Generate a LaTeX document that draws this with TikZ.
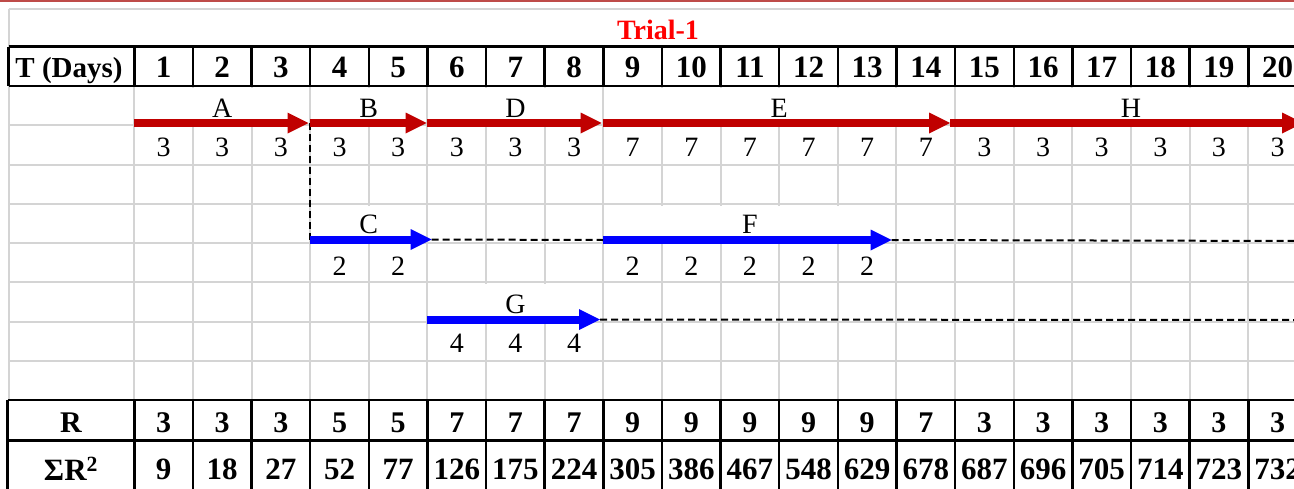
\documentclass[tikz,border=0pt]{standalone}
\usepackage{fontspec}
\setmainfont{Liberation Serif}
\usetikzlibrary{arrows.meta}
\definecolor{gridgray}{RGB}{212,212,212}
\definecolor{barred}{RGB}{192,0,0}
\definecolor{barblue}{RGB}{0,0,255}
\definecolor{titlered}{RGB}{255,0,0}
\definecolor{rulered}{RGB}{190,75,72}
% column boundaries: x_k = 134.3 + 58.63 k ; row lines: y_k = 86 + 39.25 k
\newcommand\colx[1]{134.3+58.63*(#1)}
\begin{document}
\begin{tikzpicture}[x=1pt,y=-1pt,
  gridline/.style={draw=gridgray,line width=2pt},
  rule/.style={draw=black,line width=2.5pt},
  hdtext/.style={font=\fontsize{31}{32}\selectfont\bfseries,text depth=0pt,inner sep=0pt},
  rtext/.style={font=\fontsize{30}{31}\selectfont\bfseries,text depth=0pt,inner sep=0pt},
  sqtext/.style={font=\fontsize{31}{32}\selectfont\bfseries,text depth=0pt,inner sep=0pt},
  numtext/.style={font=\fontsize{28}{29}\selectfont,text depth=0pt,inner sep=0pt},
  tag/.style={font=\fontsize{28}{29}\selectfont,fill=white,inner sep=0pt,
              text height=26.5pt,text depth=0pt},
  redbar/.style={draw=barred,line width=8pt,
                 -{Triangle[length=21pt,width=21pt,line width=0pt]}},
  bluebar/.style={draw=barblue,line width=8pt,
                  -{Triangle[length=21pt,width=21pt,line width=0pt]}},
  slack/.style={draw=black,line width=2pt,dash pattern=on 7pt off 4pt},
]
\useasboundingbox (0,0) rectangle (1294,488);
\clip (0,0) rectangle (1294,488);
\fill[white] (0,0) rectangle (1294,488);

% thin rule along the top edge
\draw[rulered,line width=2pt] (0,1.2) -- (1294,1.2);

% light sheet grid
\draw[gridline] (8.5,9) -- (1300,9);
\draw[gridline] (8.5,9) -- (8.5,400);
\foreach \k in {1,...,7}
  \draw[gridline] (8.5,{86+39.25*\k}) -- (1300,{86+39.25*\k});
\foreach \k in {0,...,19}
  \draw[gridline] ({\colx{\k}},86) -- ({\colx{\k}},400);

% activity labels (white boxes hide the inner grid lines)
\node[tag,minimum width=172.5pt,minimum height=33pt] (tA) at ({\colx{1.5}},104.5) {A};
\node[tag,minimum width=114pt,minimum height=33pt] (tB) at ({\colx{4}},104.5) {B};
\node[tag,minimum width=172.5pt,minimum height=33pt] (tD) at ({\colx{6.5}},104.5) {D};
\node[tag,minimum width=348.5pt,minimum height=33pt] (tE) at ({\colx{11}},104.5) {E};
\node[tag,minimum width=348.5pt,minimum height=33pt] (tH) at ({\colx{17}},104.5) {H};
\node[tag,minimum width=114pt,minimum height=30pt] (tC) at ({\colx{4}},220.5) {C};
\node[tag,minimum width=290pt,minimum height=30pt] (tF) at ({\colx{10.5}},220.5) {F};
\node[tag,minimum width=172.5pt,minimum height=31.5pt] (tG) at ({\colx{6.5}},299.75) {G};

% bar end points
\coordinate (a0) at ({\colx{0}},123);
\coordinate (a1) at (308.5,123);
\coordinate (b0) at ({\colx{3}},123);
\coordinate (b1) at (426.7,123);
\coordinate (d0) at ({\colx{5}},123);
\coordinate (d1) at (601.7,123);
\coordinate (e0) at ({\colx{8}},123);
\coordinate (e1) at (950,123);
\coordinate (h0) at (950,123);
\coordinate (h1) at (1303,123);
\coordinate (c0) at ({\colx{3}},239.5);
\coordinate (c1) at (431.7,239.5);
\coordinate (f0) at ({\colx{8}},240);
\coordinate (f1) at (891.7,240);
\coordinate (g0) at ({\colx{5}},319.5);
\coordinate (g1) at (600,319.5);
\coordinate (fEnd) at (1300,241);
\coordinate (gEnd) at (1300,320);

% float (dashed) links
\draw[slack] (b0) -- (c0);
\draw[slack] (c1) -- (f0);
\draw[slack] (f1) -- (fEnd);
\draw[slack] (g1) -- (gEnd);

% activity bars
\draw[redbar] (a0) -- (a1);
\draw[redbar] (b0) -- (b1);
\draw[redbar] (d0) -- (d1);
\draw[redbar] (e0) -- (e1);
\draw[redbar] (h0) -- (h1);
\draw[bluebar] (c0) -- (c1);
\draw[bluebar] (f0) -- (f1);
\draw[bluebar] (g0) -- (g1);

% daily resource values under each bar
\foreach \v [count=\i] in {3,3,3,3,3,3,3,3,7,7,7,7,7,7,3,3,3,3,3,3}
  \node[numtext] (m\i) at ({\colx{\i-0.5}},147) {\v};
\foreach \v [count=\i from 4] in {2,2}
  \node[numtext] (c\i) at ({\colx{\i-0.5}},266) {\v};
\foreach \v [count=\i from 9] in {2,2,2,2,2}
  \node[numtext] (f\i) at ({\colx{\i-0.5}},266) {\v};
\foreach \v [count=\i from 6] in {4,4,4}
  \node[numtext] (g\i) at ({\colx{\i-0.5}},343) {\v};

% title and header row
\node[font=\fontsize{28}{29}\selectfont\bfseries,text=titlered,inner sep=0pt,text depth=0pt]
  (title) at (658,30) {Trial-1};
\draw[rule] (8.5,46.7) -- (1300,46.7);
\draw[rule] (8.5,86) -- (1300,86);
\draw[rule] (8.5,46.7) -- (8.5,86);
\foreach \k in {0,...,19}
  \draw[rule] ({\colx{\k}},46.7) -- ({\colx{\k}},86);
\node[font=\fontsize{29}{30}\selectfont\bfseries,inner sep=0pt,text depth=0pt]
  (tdays) at (69,67) {T (Days)};
\foreach \i in {1,...,20}
  \node[hdtext] (d\i) at ({\colx{\i-0.5}},67) {\i};

% resource summary rows
\draw[rule] (7.5,400) -- (1300,400);
\draw[rule] (7.5,440.7) -- (1300,440.7);
\draw[rule] (7.5,400) -- (7.5,500);
\foreach \k in {0,...,19}
  \draw[rule] ({\colx{\k}},400) -- ({\colx{\k}},500);
\node[rtext] (rlab) at (71,423) {R};
\node[sqtext] (slab) at (71,469) {ΣR\textsuperscript{2}};
\foreach \v [count=\i] in {3,3,3,5,5,7,7,7,9,9,9,9,9,7,3,3,3,3,3,3}
  \node[rtext] (r\i) at ({\colx{\i-0.5}},423) {\v};
\foreach \v [count=\i] in {9,18,27,52,77,126,175,224,305,386,467,548,629,678,687,696,705,714,723,732}
  \node[sqtext] (s\i) at ({\colx{\i-0.5}},469) {\v};
\end{tikzpicture}
\end{document}
